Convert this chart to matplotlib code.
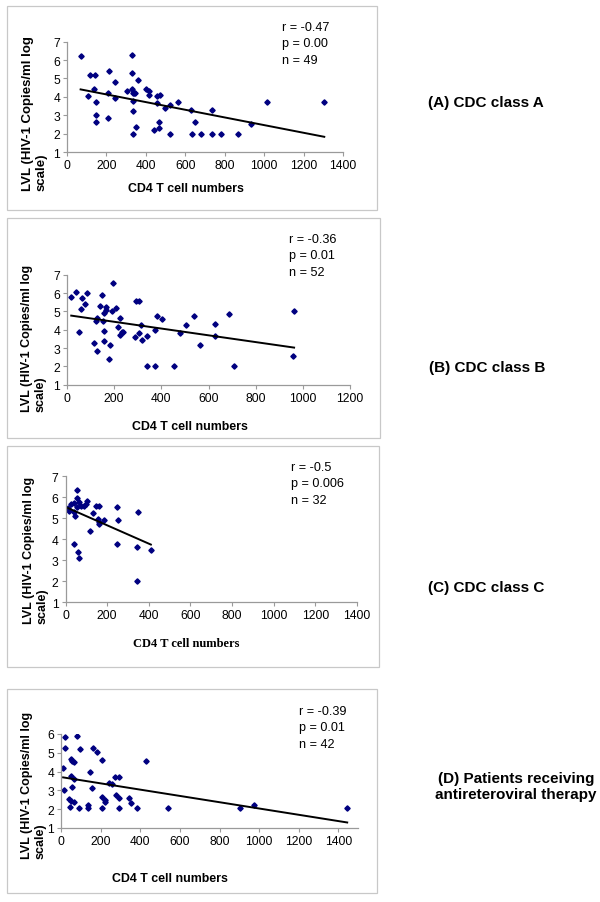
import matplotlib

matplotlib.use('Agg')
import matplotlib.pyplot as plt
from matplotlib.patches import Rectangle
import numpy as np

W, H = 600, 903

# Panel A - CDC class A
cd4_a = [69, 331, 118, 142, 214, 330, 246, 358, 137, 209, 108, 246, 302, 330, 334,
         344, 400, 417, 414, 457, 471, 459, 148, 334, 495, 520, 564, 145, 148, 209,
         336, 349, 439, 466, 468, 334, 520, 628, 648, 634, 678, 736, 736, 781, 866,
         932, 1013, 1305, 340]
lvl_a = [6.23, 6.25, 5.21, 5.17, 5.42, 5.32, 4.81, 4.94, 4.43, 4.23, 4.02, 3.96, 4.31, 4.43, 4.22,
         4.22, 4.45, 4.31, 4.11, 4.04, 4.11, 3.69, 3.73, 3.77, 3.39, 3.57, 3.71, 3.01, 2.65, 2.83,
         3.21, 2.38, 2.20, 2.32, 2.65, 2.00, 2.00, 3.26, 2.61, 2.00, 2.00, 3.31, 2.00, 2.00, 2.00,
         2.52, 3.73, 3.73, 4.20]

# Panel B - CDC class B
cd4_b = [18, 40, 83, 65, 75, 61, 49, 147, 194, 138, 167, 164, 155, 189, 206, 126, 124, 153,
         225, 158, 215, 232, 224, 113, 129, 158, 182, 177, 292, 305, 312, 287, 305, 318,
         340, 372, 383, 404, 340, 373, 453, 478, 504, 537, 565, 627, 627, 689, 708, 963, 958, 239]
lvl_b = [5.80, 6.07, 6.02, 5.73, 5.38, 5.11, 3.87, 5.87, 6.53, 5.27, 5.22, 5.05, 4.91, 5.02, 5.18,
         4.64, 4.45, 4.45, 4.65, 3.93, 4.13, 3.85, 3.70, 3.25, 2.82, 3.36, 3.15, 2.42, 5.56, 5.56,
         4.27, 3.58, 3.84, 3.42, 3.64, 3.98, 4.76, 4.56, 2.00, 2.00, 2.00, 3.84, 4.27, 4.76, 3.16,
         4.31, 3.67, 4.85, 2.00, 5.00, 2.58, 3.90]

# Panel C - CDC class C
cd4_c = [10, 18, 26, 39, 41, 46, 55, 55, 57, 65, 74, 90, 98, 103, 39, 58, 65, 118, 132,
         148, 159, 154, 159, 162, 186, 247, 254, 249, 350, 343, 410, 345]
lvl_c = [5.48, 5.37, 5.70, 5.71, 5.29, 5.13, 6.35, 5.95, 5.52, 5.79, 5.60, 5.60, 5.68, 5.81,
         3.79, 3.38, 3.11, 4.41, 5.24, 5.60, 5.60, 4.97, 4.81, 4.71, 4.94, 5.56, 4.92, 3.76,
         5.32, 3.63, 3.51, 2.02]

# Panel D - patients on antiretroviral therapy
cd4_d = [10, 20, 20, 16, 82, 94, 50, 57, 65, 48, 57, 65, 40, 48, 64, 45, 92, 160, 183, 207,
         146, 155, 134, 137, 205, 223, 223, 208, 243, 255, 271, 292, 279, 292, 294, 343, 355,
         385, 427, 540, 902, 974, 1444]
lvl_d = [4.21, 5.84, 5.26, 3.04, 5.89, 5.22, 4.65, 4.58, 4.49, 3.78, 3.18, 3.60, 2.52, 2.45,
         2.37, 2.13, 2.04, 5.24, 5.02, 4.63, 3.96, 3.13, 2.22, 2.04, 2.63, 2.49, 2.40, 2.04,
         3.38, 3.34, 3.70, 3.70, 2.77, 2.60, 2.04, 2.60, 2.35, 2.04, 4.58, 2.04, 2.06, 2.20, 2.06]

stats = [['r = -0.47', 'p = 0.00', 'n = 49'],
         ['r = -0.36', 'p = 0.01', 'n = 52'],
         ['r = -0.5', 'p = 0.006', 'n = 32'],
         ['r = -0.39', 'p = 0.01', 'n = 42']]
titles = ['(A) CDC class A', '(B) CDC class B', '(C) CDC class C',
          '(D) Patients receiving\nantireteroviral therapy']
xlabel = 'CD4 T cell numbers'
ylabel = 'LVL (HIV-1 Copies/ml log\nscale)'

plt.rcParams['font.family'] = ['Liberation Sans', 'DejaVu Sans']

fig = plt.figure(figsize=(W / 100, H / 100), dpi=100)


def fx(x):
    return x / W


def fy(y):
    return 1 - y / H


# layout in pixels: axes box (left, top, right, bottom), limits, text positions
panels = [
    dict(x=cd4_a, y=lvl_a, box=(67, 42.7, 343, 153), xlim=1400, xmax=1400, ylim=(1, 7),
         frame=(7, 7, 377, 211), ylab=(35, 114, 9.5), xlab=(186, 189), stat=(282, 28),
         title=(486, 103)),
    dict(x=cd4_b, y=lvl_b, box=(67, 275.7, 350, 385.7), xlim=1200, xmax=1200, ylim=(1, 7),
         frame=(7, 219, 380, 439), ylab=(34, 338, 9), xlab=(190, 427), stat=(289, 240),
         title=(487, 368)),
    dict(x=cd4_c, y=lvl_c, box=(65.5, 477.3, 357, 603.3), xlim=1400, xmax=1400, ylim=(1, 7),
         frame=(7, 447, 379, 668), ylab=(36, 550, 9), xlab=(186, 644), stat=(291, 468),
         title=(486, 588)),
    dict(x=cd4_d, y=lvl_d, box=(61.1, 735, 358.3, 829), xlim=1500, xmax=1400, ylim=(1, 6),
         frame=(7, 690, 377, 894), ylab=(34, 785, 9), xlab=(170, 879), stat=(299, 712),
         title=(516, 787)),
]

for i, p in enumerate(panels):
    fl, ft, fr, fb = p['frame']
    fig.patches.append(Rectangle((fx(fl), fy(fb)), fx(fr - fl), (fb - ft) / H,
                                 transform=fig.transFigure, fill=False,
                                 edgecolor='#c8c8c8', linewidth=0.9))

    l, t, r, b = p['box']
    ax = fig.add_axes([fx(l), fy(b), fx(r - l), (b - t) / H])
    xs = np.array(p['x'])
    ys = np.array(p['y'])
    ax.plot(xs, ys, linestyle='none', marker='D', markersize=2.7, color='#000080')

    # linear trend line
    k, c = np.polyfit(xs, ys, 1)
    xl = np.array([xs.min(), xs.max()])
    ax.plot(xl, k * xl + c, color='black', linewidth=1.4)

    ax.set_xlim(0, p['xlim'])
    ax.set_ylim(*p['ylim'])
    ax.set_xticks(np.arange(0, p['xmax'] + 1, 200))
    ax.set_yticks(np.arange(p['ylim'][0], p['ylim'][1] + 1, 1))
    for s in ['top', 'right']:
        ax.spines[s].set_visible(False)
    for s in ['left', 'bottom']:
        ax.spines[s].set_color('#9a9a9a')
        ax.spines[s].set_linewidth(0.9)
    ax.tick_params(direction='out', length=3, width=0.8, color='#9a9a9a',
                   labelsize=8.7, pad=2)
    ax.patch.set_alpha(0)

    yx, yy, ys_ = p['ylab']
    fig.text(fx(yx), fy(yy), ylabel, rotation=90, ha='center', va='center',
             multialignment='left', fontsize=ys_, fontweight='bold', linespacing=1.15)
    if i == 2:
        fig.text(fx(p['xlab'][0]), fy(p['xlab'][1]), xlabel, ha='center', va='center',
                 fontsize=9, fontweight='bold', family=['Liberation Serif', 'DejaVu Serif'])
    else:
        fig.text(fx(p['xlab'][0]), fy(p['xlab'][1]), xlabel, ha='center', va='center',
                 fontsize=8.9, fontweight='bold')

    sx, sy = p['stat']
    for j, line in enumerate(stats[i]):
        fig.text(fx(sx), fy(sy + j * 16.3), line, ha='left', va='center', fontsize=9.1)

    tx, ty = p['title']
    fig.text(fx(tx), fy(ty), titles[i], ha='center', va='center', fontsize=11,
             fontweight='bold', linespacing=1.25)

fig.savefig('out.png', dpi=100)
